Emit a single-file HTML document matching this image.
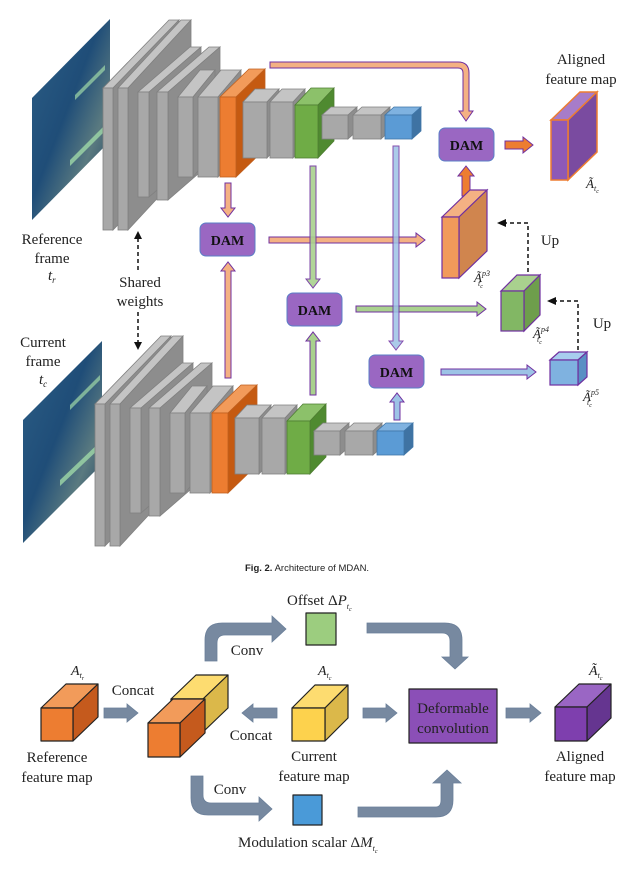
<!DOCTYPE html>
<html><head><meta charset="utf-8"><style>
html,body{margin:0;padding:0;background:#fff;}
svg{display:block;}
text{font-family:"Liberation Serif",serif;fill:#222;}
.t15{font-size:15px;}
.dam{font-size:14px;font-weight:bold;fill:#111;}
.m{font-style:italic;}
</style></head><body>
<svg width="638" height="869" viewBox="0 0 638 869" xmlns="http://www.w3.org/2000/svg">
<defs>
<linearGradient id="img" x1="0" y1="0" x2="1" y2="1">
<stop offset="0" stop-color="#2d5f86"/><stop offset="0.45" stop-color="#1f4d78"/><stop offset="0.7" stop-color="#5a7a80"/><stop offset="1" stop-color="#14355a"/>
</linearGradient>
<g id="net" stroke="#808080" stroke-width="0.8">
<!-- L1 -->
<polygon points="103,88 169,20 179,20 113,88" fill="#c4c4c4"/><polygon points="113,88 179,20 179,162 113,230" fill="#8d8d8d"/><rect x="103" y="88" width="10" height="142" fill="#a8a8a8"/>
<polygon points="118,88 181,20 191,20 128,88" fill="#c4c4c4"/><polygon points="128,88 191,20 191,162 128,230" fill="#8d8d8d"/><rect x="118" y="88" width="10" height="142" fill="#a8a8a8"/>
<polygon points="138,92 190,47 201,47 149,92" fill="#c4c4c4"/><polygon points="149,92 201,47 201,152 149,197" fill="#8d8d8d"/><rect x="138" y="92" width="11" height="105" fill="#a8a8a8"/>
<polygon points="157,92 209,47 220,47 168,92" fill="#c4c4c4"/><polygon points="168,92 220,47 220,155 168,200" fill="#8d8d8d"/><rect x="157" y="92" width="11" height="108" fill="#a8a8a8"/>
<polygon points="178,97 200,70 215,70 193,97" fill="#c4c4c4"/><polygon points="193,97 215,70 215,150 193,177" fill="#8d8d8d"/><rect x="178" y="97" width="15" height="80" fill="#a8a8a8"/>
<polygon points="198,97 221,70 241,70 218,97" fill="#c4c4c4"/><polygon points="218,97 241,70 241,150 218,177" fill="#8d8d8d"/><rect x="198" y="97" width="20" height="80" fill="#a8a8a8"/>
<g stroke="#c0601f"><polygon points="220,97 249,69 265,69 236,97" fill="#f29b5a"/><polygon points="236,97 265,69 265,149 236,177" fill="#c55a11"/><rect x="220" y="97" width="16" height="80" fill="#ed7d31"/></g>
<polygon points="243,102 255,89 279,89 267,102" fill="#c4c4c4"/><polygon points="267,102 279,89 279,145 267,158" fill="#8d8d8d"/><rect x="243" y="102" width="24" height="56" fill="#a8a8a8"/>
<polygon points="270,102 282,89 305,89 293,102" fill="#c4c4c4"/><polygon points="293,102 305,89 305,145 293,158" fill="#8d8d8d"/><rect x="270" y="102" width="23" height="56" fill="#a8a8a8"/>
<g stroke="#4e7d32"><polygon points="295,105 311,88 334,88 318,105" fill="#8cc16a"/><polygon points="318,105 334,88 334,141 318,158" fill="#4f8a30"/><rect x="295" y="105" width="23" height="53" fill="#6fac46"/></g>
<polygon points="322,115 331,107 357,107 348,115" fill="#c4c4c4"/><polygon points="348,115 357,107 357,131 348,139" fill="#8d8d8d"/><rect x="322" y="115" width="26" height="24" fill="#a8a8a8"/>
<polygon points="353,115 362,107 390,107 381,115" fill="#c4c4c4"/><polygon points="381,115 390,107 390,131 381,139" fill="#8d8d8d"/><rect x="353" y="115" width="28" height="24" fill="#a8a8a8"/>
<g stroke="#3f76a8"><polygon points="385,115 394,107 421,107 412,115" fill="#7fb2e0"/><polygon points="412,115 421,107 421,131 412,139" fill="#3f73a3"/><rect x="385" y="115" width="27" height="24" fill="#5b9bd5"/></g>
</g>
</defs>

<!-- frames -->
<polygon points="32,98 110,19 110,141 32,220" fill="url(#img)"/>
<polygon points="70,160 110,120 110,126 70,166" fill="#9fd8a8" opacity="0.8"/>
<polygon points="75,95 105,65 105,70 75,100" fill="#9fd8a8" opacity="0.7"/>
<polygon points="23,420 102,341 102,464 23,543" fill="url(#img)"/>
<polygon points="60,480 102,440 102,446 60,486" fill="#9fd8a8" opacity="0.8"/>
<polygon points="70,405 100,375 100,380 70,410" fill="#9fd8a8" opacity="0.7"/>

<use href="#net"/>
<use href="#net" transform="translate(-8,316)"/>

<!-- shared weights -->
<g stroke="#111" stroke-width="1.5" stroke-dasharray="4,3" fill="none">
<line x1="138" y1="270" x2="138" y2="238"/><line x1="138" y1="312" x2="138" y2="343"/>
</g>
<polygon points="134,239 138,231 142,239" fill="#111"/><polygon points="134,342 138,350 142,342" fill="#111"/>

<!-- connectors -->
<g stroke="#7030a0" stroke-width="1">
<path d="M270,62 L458,62 Q469,62 469,73 L469,111 L473,111 L466,121 L459,111 L463,111 L463,73 Q463,68 458,68 L270,68 Z" fill="#f4b183"/>
<path d="M225,183 L231,183 L231,208 L235,208 L228,217 L221,208 L225,208 Z" fill="#f4b183"/>
<path d="M269,237 L416,237 L416,233 L425,240 L416,247 L416,243 L269,243 Z" fill="#f4b183"/>
<path d="M225,378 L225,271 L221,271 L228,262 L235,271 L231,271 L231,378 Z" fill="#f4b183"/>
<path d="M356,306 L477,306 L477,302 L486,309 L477,316 L477,312 L356,312 Z" fill="#a9d18e"/>
<path d="M310,166 L316,166 L316,279 L320,279 L313,288 L306,279 L310,279 Z" fill="#a9d18e" opacity="0.9"/>
<path d="M310,395 L310,341 L306,341 L313,332 L320,341 L316,341 L316,395 Z" fill="#a9d18e"/>
<path d="M441,369 L527,369 L527,365 L536,372 L527,379 L527,375 L441,375 Z" fill="#9dc3e6"/>
<path d="M393,146 L399,146 L399,341 L403,341 L396,350 L389,341 L393,341 Z" fill="#9dc3e6" opacity="0.85"/>
<path d="M394,420 L394,402 L390,402 L397,393 L404,402 L400,402 L400,420 Z" fill="#9dc3e6"/>
<path d="M462,196 L462,176 L458,176 L466,166 L474,176 L470,176 L470,196 Z" fill="#ed7d31"/>
<path d="M505,141 L523,141 L523,137 L533,145 L523,153 L523,149 L505,149 Z" fill="#ed7d31"/>
</g>

<!-- DAM boxes -->
<g fill="#9a67c2" stroke="#5b7fc7" stroke-width="1">
<rect x="200" y="223" width="55" height="33" rx="6"/>
<rect x="287" y="293" width="55" height="33" rx="6"/>
<rect x="369" y="355" width="55" height="33" rx="6"/>
<rect x="439" y="128" width="55" height="33" rx="6"/>
</g>
<text class="dam" x="227.5" y="245" text-anchor="middle">DAM</text>
<text class="dam" x="314.5" y="315" text-anchor="middle">DAM</text>
<text class="dam" x="396.5" y="377" text-anchor="middle">DAM</text>
<text class="dam" x="466.5" y="150" text-anchor="middle">DAM</text>

<!-- right maps -->
<g stroke="#7030a0" stroke-width="1.2">
<polygon points="442,217 470,190 487,190 459,217" fill="#f4b183"/><polygon points="459,217 487,190 487,251 459,278" fill="#d0854e"/><rect x="442" y="217" width="17" height="61" fill="#f19a5a"/>
<polygon points="501,291 517,275 540,275 524,291" fill="#a9d18e"/><polygon points="524,291 540,275 540,315 524,331" fill="#6e9e4c"/><rect x="501" y="291" width="23" height="40" fill="#82b764"/>
<polygon points="550,360 559,352 587,352 578,360" fill="#a8cdee"/><polygon points="578,360 587,352 587,377 578,385" fill="#5a8fc4"/><rect x="550" y="360" width="28" height="25" fill="#7fb2e0"/>
</g>
<g stroke="#ed7d31" stroke-width="1.5">
<polygon points="551,120 580,92 597,92 568,120" fill="#a77cc9"/><polygon points="568,120 597,92 597,152 568,180" fill="#7a4ba0"/><rect x="551" y="120" width="17" height="60" fill="#8e59b7"/>
</g>
<g stroke="#111" stroke-width="1.5" stroke-dasharray="4,3" fill="none">
<polyline points="528,272 528,223 505,223"/><polyline points="578,350 578,301 555,301"/>
</g>
<polygon points="506,219 497,223 506,227" fill="#111"/><polygon points="556,297 547,301 556,305" fill="#111"/>

<!-- top labels -->
<text class="t15" x="581" y="64" text-anchor="middle">Aligned</text>
<text class="t15" x="581" y="84" text-anchor="middle">feature map</text>
<text class="t15" x="550" y="245" text-anchor="middle">Up</text>
<text class="t15" x="602" y="328" text-anchor="middle">Up</text>
<text class="m" x="586" y="188" font-size="13">Ã<tspan font-size="8" dy="3">t</tspan><tspan font-size="6" dy="2">c</tspan></text>
<text class="m" x="474" y="282" font-size="13">Ã<tspan font-size="8" dy="-6">p3</tspan><tspan font-size="8" dx="-12" dy="10">t</tspan><tspan font-size="6" dy="2">c</tspan></text>
<text class="m" x="533" y="338" font-size="13">Ã<tspan font-size="8" dy="-6">p4</tspan><tspan font-size="8" dx="-12" dy="10">t</tspan><tspan font-size="6" dy="2">c</tspan></text>
<text class="m" x="583" y="401" font-size="13">Ã<tspan font-size="8" dy="-6">p5</tspan><tspan font-size="8" dx="-12" dy="10">t</tspan><tspan font-size="6" dy="2">c</tspan></text>
<text class="t15" x="52" y="244" text-anchor="middle">Reference</text>
<text class="t15" x="52" y="263" text-anchor="middle">frame</text>
<text class="t15 m" x="48" y="280">t<tspan font-size="9" dy="3">r</tspan></text>
<text class="t15" x="140" y="287" text-anchor="middle">Shared</text>
<text class="t15" x="140" y="306" text-anchor="middle">weights</text>
<text class="t15" x="43" y="347" text-anchor="middle">Current</text>
<text class="t15" x="43" y="366" text-anchor="middle">frame</text>
<text class="t15 m" x="39" y="384">t<tspan font-size="9" dy="3">c</tspan></text>

<text x="245" y="571" style="font-family:'Liberation Sans',sans-serif;font-size:9.5px;"><tspan font-weight="bold">Fig. 2.</tspan>  Architecture of MDAN.</text>

<!-- bottom diagram arrows -->
<g fill="#7789a0" stroke="#6a7f99" stroke-width="0.8">
<path d="M104,708 L127,708 L127,704 L138,713 L127,722 L127,718 L104,718 Z"/>
<path d="M277,708 L253,708 L253,704 L242,713 L253,722 L253,718 L277,718 Z"/>
<path d="M363,708 L386,708 L386,704 L397,713 L386,722 L386,718 L363,718 Z"/>
<path d="M506,708 L530,708 L530,704 L541,713 L530,722 L530,718 L506,718 Z"/>
<path d="M205,661 L205,640 Q205,623 222,623 L272,623 L272,616 L286,629 L272,642 L272,635 L225,635 Q217,635 217,643 L217,661 Z"/>
<path d="M191,776 L203,776 L203,795 Q203,803 211,803 L259,803 L259,797 L272,809 L259,821 L259,815 L208,815 Q191,815 191,798 Z"/>
<path d="M367,623 L445,623 Q462,623 462,640 L462,657 L468,657 L455,669 L442,657 L450,657 L450,641 Q450,633 442,633 L367,633 Z"/>
<path d="M358,807 L436,807 Q441,807 441,800 L441,783 L433,783 L447,770 L461,783 L453,783 L453,800 Q453,817 436,817 L358,817 Z"/>
</g>

<!-- bottom cubes -->
<g stroke="#222" stroke-width="1.2" stroke-linejoin="round">
<polygon points="41,708 66,684 98,684 73,708" fill="#f29b5a"/><polygon points="73,708 98,684 98,717 73,741" fill="#c55a1d"/><rect x="41" y="708" width="32" height="33" fill="#ed7d31"/>
<polygon points="171,699 196,675 228,675 203,699" fill="#fddc70"/><polygon points="203,699 228,675 228,708 203,732" fill="#dbb84a"/><rect x="171" y="699" width="32" height="33" fill="#fdd24d"/>
<polygon points="148,723 173,699 205,699 180,723" fill="#f29b5a"/><polygon points="180,723 205,699 205,733 180,757" fill="#c55a1d"/><rect x="148" y="723" width="32" height="34" fill="#ed7d31"/>
<polygon points="292,708 315,685 348,685 325,708" fill="#fddc70"/><polygon points="325,708 348,685 348,718 325,741" fill="#dbb84a"/><rect x="292" y="708" width="33" height="33" fill="#fdd24d"/>
<polygon points="555,707 579,684 611,684 587,707" fill="#9a66c4"/><polygon points="587,707 611,684 611,718 587,741" fill="#653590"/><rect x="555" y="707" width="32" height="34" fill="#7e3fae"/>
<rect x="306" y="613" width="30" height="32" fill="#9ccd7f"/>
<rect x="293" y="795" width="29" height="30" fill="#4a9ad8"/>
<rect x="409" y="689" width="88" height="54" fill="#8b4fb7"/>
</g>
<text class="t15" x="453" y="713" text-anchor="middle">Deformable</text>
<text class="t15" x="453" y="733" text-anchor="middle">convolution</text>

<text class="t15" x="57" y="762" text-anchor="middle">Reference</text>
<text class="t15" x="57" y="782" text-anchor="middle">feature map</text>
<text class="t15" x="314" y="761" text-anchor="middle">Current</text>
<text class="t15" x="314" y="781" text-anchor="middle">feature map</text>
<text class="t15" x="580" y="761" text-anchor="middle">Aligned</text>
<text class="t15" x="580" y="781" text-anchor="middle">feature map</text>
<text class="t15" x="133" y="695" text-anchor="middle">Concat</text>
<text class="t15" x="251" y="740" text-anchor="middle">Concat</text>
<text class="t15" x="247" y="655" text-anchor="middle">Conv</text>
<text class="t15" x="230" y="794" text-anchor="middle">Conv</text>
<text class="t15" x="287" y="605">Offset  Δ<tspan class="m">P</tspan><tspan class="m" font-size="8" dy="4">t</tspan><tspan class="m" font-size="6" dy="2">c</tspan></text>
<text class="t15" x="238" y="847">Modulation scalar  Δ<tspan class="m">M</tspan><tspan class="m" font-size="8" dy="4">t</tspan><tspan class="m" font-size="6" dy="2">c</tspan></text>
<text class="m" x="71" y="675" font-size="14">A<tspan font-size="8" dy="3">t</tspan><tspan font-size="6" dy="2">r</tspan></text>
<text class="m" x="318" y="675" font-size="14">A<tspan font-size="8" dy="3">t</tspan><tspan font-size="6" dy="2">c</tspan></text>
<text class="m" x="589" y="675" font-size="14">Ã<tspan font-size="8" dy="3">t</tspan><tspan font-size="6" dy="2">c</tspan></text>
</svg>
</body></html>
